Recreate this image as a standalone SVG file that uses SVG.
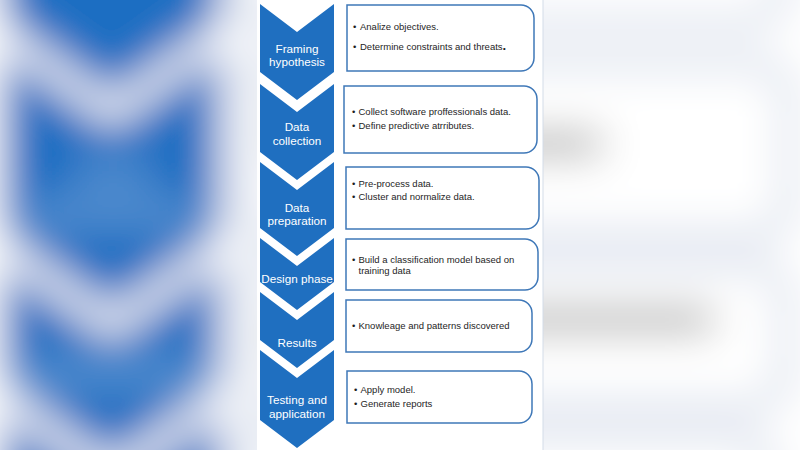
<svg xmlns="http://www.w3.org/2000/svg" width="800" height="450" viewBox="0 0 800 450">
  <style>
    .chev { fill: #1f6fc0; }
    .box { fill: #ffffff; stroke: #3f78b8; stroke-width: 1.5; }
    .ct { font-family: "Liberation Sans", Arial, sans-serif; font-size: 11.7px; fill: #ffffff; text-anchor: middle; }
    .bt { font-family: "Liberation Sans", Arial, sans-serif; font-size: 9.5px; fill: #1e1e1e; }
    .bgchev { fill: #1a6ec2; }
    .bgbox { fill: #ffffff; stroke: #3f78b8; stroke-width: 2; }
    .bgtxt { fill: #8a8a8a; }
    .bgwt { fill: #ffffff; opacity: 0.3; }
  </style>
  <defs>
    <filter id="bgblur" x="-30%" y="-30%" width="160%" height="160%">
      <feGaussianBlur stdDeviation="7.5"/>
    </filter>
  </defs>

  <!-- blurred enlarged backdrop -->
  <rect x="0" y="0" width="800" height="450" fill="#ffffff"/>
  <g id="backdrop" transform="matrix(2.8 0 0 2.8 -720 -405)" filter="url(#bgblur)">
    <rect x="240" y="-20" width="320" height="490" fill="#ffffff"/>
    <polygon class="bgchev" points="258,4 297,32 336,4 336,72 297,100 258,72"/>
    <polygon class="bgchev" points="258,84 297,112 336,84 336,152 297,180 258,152"/>
    <polygon class="bgchev" points="258,162 297,190 336,162 336,228 297,256 258,228"/>
    <polygon class="bgchev" points="258,238 297,266 336,238 336,282 297,310 258,282"/>
    <polygon class="bgchev" points="258,292 297,320 336,292 336,340 297,368 258,340"/>
    <polygon class="bgchev" points="258,350 297,378 336,350 336,420 297,448 258,420"/>
    <rect class="bgwt" x="284" y="203" width="27" height="8"/>
    <rect class="bgwt" x="266" y="217" width="62" height="8"/>
    <rect class="bgwt" x="263" y="274" width="68" height="8"/>
    <rect class="bgwt" x="279" y="339" width="37" height="8"/>
    <path class="bgbox" d="M346,167 H526 A13,13 0 0 1 539,180 V216 A13,13 0 0 1 526,229 H346 Z"/>
    <path class="bgbox" d="M346,239 H525 A13,13 0 0 1 538,252 V277 A13,13 0 0 1 525,290 H346 Z"/>
    <path class="bgbox" d="M344,86 H524 A13,13 0 0 1 537,99 V140 A13,13 0 0 1 524,153 H344 Z"/>
    <path class="bgbox" d="M346,300 H519 A13,13 0 0 1 532,313 V339 A13,13 0 0 1 519,352 H346 Z"/>
    <rect class="bgtxt" x="358" y="179.5" width="74" height="7"/>
    <rect class="bgtxt" x="358" y="192.5" width="114" height="7"/>
    <rect class="bgtxt" x="358" y="255.5" width="154" height="7"/>
    <rect class="bgtxt" x="358" y="266.5" width="54" height="7"/>
  </g>

  <!-- center panel -->
  <rect x="257" y="0" width="286" height="450" fill="#ffffff"/>
  <line x1="543" y1="0" x2="543" y2="450" stroke="#d3dce8" stroke-width="1"/>

  <g id="connectors"></g>

  <g id="step1">
    <polygon class="chev" points="260,4 297,32 334,4 334,72 297,100 260,72"/>
    <text class="ct" x="297" y="53">Framing</text>
    <text class="ct" x="297" y="66">hypothesis</text>
  </g>
  <g id="detail1">
    <path class="box" d="M347,5 H521 A13,13 0 0 1 534,18 V58 A13,13 0 0 1 521,71 H347 Z"/>
    <text class="bt" y="30"><tspan x="353">•</tspan><tspan x="360">Analize objectives.</tspan></text>
    <text class="bt" y="50"><tspan x="353">•</tspan><tspan x="360">Determine constraints and threats</tspan><tspan font-size="13" font-weight="bold">.</tspan></text>
  </g>

  <g id="step2">
    <polygon class="chev" points="260,84 297,112 334,84 334,152 297,180 260,152"/>
    <text class="ct" x="297" y="131">Data</text>
    <text class="ct" x="297" y="145">collection</text>
  </g>
  <g id="detail2">
    <path class="box" d="M344,86 H524 A13,13 0 0 1 537,99 V140 A13,13 0 0 1 524,153 H344 Z"/>
    <text class="bt" y="115"><tspan x="352">•</tspan><tspan x="358.5">Collect software proffessionals data.</tspan></text>
    <text class="bt" y="128.5"><tspan x="352">•</tspan><tspan x="358.5">Define predictive atrributes.</tspan></text>
  </g>

  <g id="step3">
    <polygon class="chev" points="260,162 297,190 334,162 334,228 297,256 260,228"/>
    <text class="ct" x="297" y="212">Data</text>
    <text class="ct" x="297" y="225">preparation</text>
  </g>
  <g id="detail3">
    <path class="box" d="M346,167 H526 A13,13 0 0 1 539,180 V216 A13,13 0 0 1 526,229 H346 Z"/>
    <text class="bt" y="187"><tspan x="352">•</tspan><tspan x="358.5">Pre-process data.</tspan></text>
    <text class="bt" y="199.5"><tspan x="352">•</tspan><tspan x="358.5">Cluster and normalize data.</tspan></text>
  </g>

  <g id="step4">
    <polygon class="chev" points="260,238 297,266 334,238 334,282 297,310 260,282"/>
    <text class="ct" x="297" y="283">Design phase</text>
  </g>
  <g id="detail4">
    <path class="box" d="M346,239 H525 A13,13 0 0 1 538,252 V277 A13,13 0 0 1 525,290 H346 Z"/>
    <text class="bt" y="262.5"><tspan x="352">•</tspan><tspan x="358.5">Build a classification model based on</tspan></text>
    <text class="bt" x="358.5" y="274">training data</text>
  </g>

  <g id="step5">
    <polygon class="chev" points="260,292 297,320 334,292 334,340 297,368 260,340"/>
    <text class="ct" x="297" y="347">Results</text>
  </g>
  <g id="detail5">
    <path class="box" d="M346,300 H519 A13,13 0 0 1 532,313 V339 A13,13 0 0 1 519,352 H346 Z"/>
    <text class="bt" y="328.5"><tspan x="352">•</tspan><tspan x="358.5">Knowleage and patterns discovered</tspan></text>
  </g>

  <g id="step6">
    <polygon class="chev" points="260,350 297,378 334,350 334,420 297,448 260,420"/>
    <text class="ct" x="297" y="404">Testing and</text>
    <text class="ct" x="297" y="418">application</text>
  </g>
  <g id="detail6">
    <path class="box" d="M347,371 H519 A13,13 0 0 1 532,384 V410 A13,13 0 0 1 519,423 H347 Z"/>
    <text class="bt" y="393"><tspan x="354">•</tspan><tspan x="360.5">Apply model.</tspan></text>
    <text class="bt" y="407"><tspan x="354">•</tspan><tspan x="360.5">Generate reports</tspan></text>
  </g>
</svg>
